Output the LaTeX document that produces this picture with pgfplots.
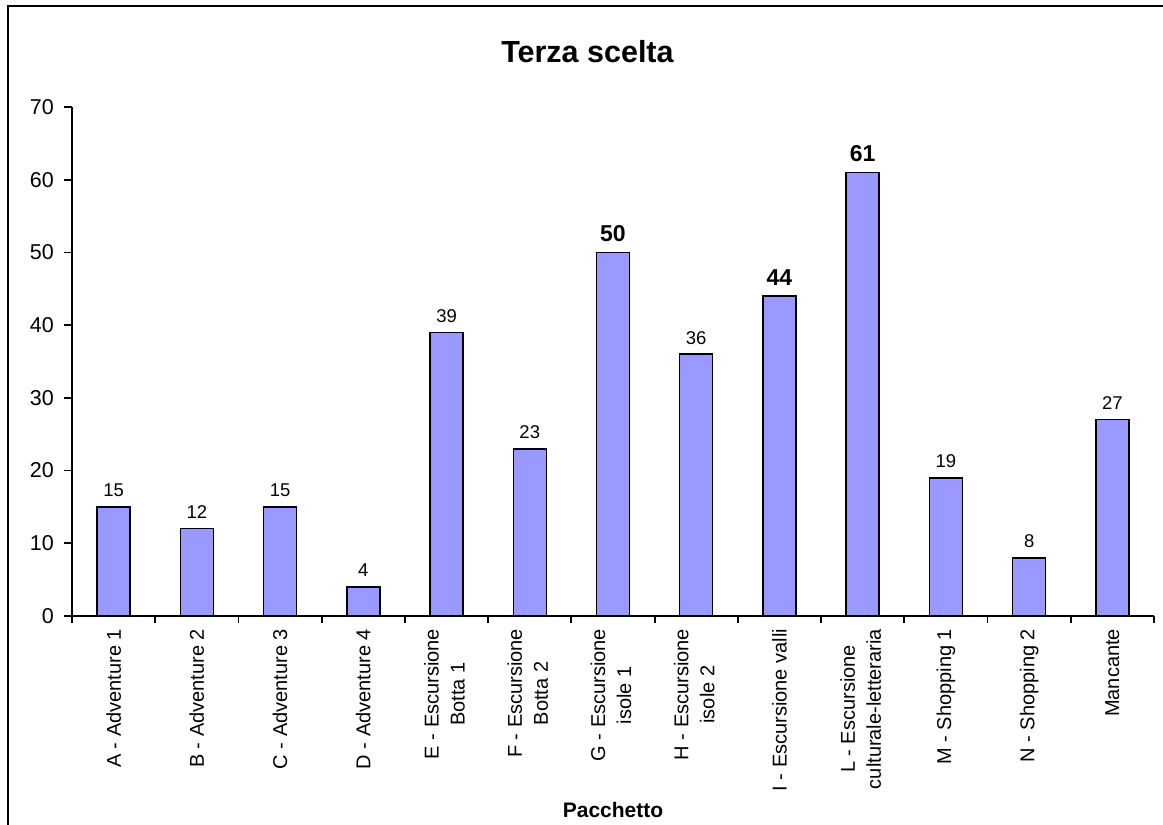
\documentclass[border=0pt]{standalone}
\usepackage{pgfplots}
\pgfplotsset{compat=1.18}
\usepackage{fontspec}
\setmainfont{Liberation Sans}
\definecolor{barfill}{HTML}{9999FF}
\newcommand\catfont{\fontsize{20}{26}\selectfont}
\newcommand\tickfont{\fontsize{21.5}{24}\selectfont}
\newcommand\valfont{\fontsize{18.5}{20}\selectfont}
\newcommand\boldvalfont{\fontsize{23}{25}\selectfont\bfseries}
\newcommand\two[2]{\begin{tabular}{@{}c@{}}#1\\#2\end{tabular}}
\begin{document}
\begin{tikzpicture}[x=1pt,y=1pt]
\useasboundingbox (0,0) rectangle (1163,825);
\draw[line width=2pt] (8,0) -- (8,819) -- (1163,819);
\begin{axis}[
  at={(72pt,209pt)}, anchor=south west,
  scale only axis, width=1082pt, height=509pt,
  xmin=-0.5, xmax=12.5, ymin=0, ymax=70,
  /pgf/number format/assume math mode=true,
  axis x line*=bottom, axis y line*=left,
  axis line style={line width=1.8pt},
  ytick={0,10,...,70},
  xtick={0,...,12},
  minor xtick={-0.5,0.5,...,12.5},
  tick align=outside,
  major tick length=8pt, minor tick length=7pt,
  ytick style={line width=1.8pt, black},
  minor x tick style={line width=1.8pt, black},
  major x tick style={draw=none},
  yticklabel style={font=\tickfont, anchor=east, inner sep=0pt, xshift=-10pt},
  xticklabel style={font=\catfont, rotate=90, anchor=east, inner sep=0pt, outer xsep=5pt},
  xticklabels={
    A - Adventure 1,
    B - Adventure 2,
    C - Adventure 3,
    D - Adventure 4,
    \two{E - Escursione}{Botta 1},
    \two{F - Escursione}{Botta 2},
    \two{G - Escursione}{isole 1},
    \two{H - Escursione}{isole 2},
    I - Escursione valli,
    \two{L - Escursione}{culturale-letteraria},
    M - Shopping 1,
    N - Shopping 2,
    Mancante},
  xlabel={Pacchetto},
  xlabel style={font=\fontsize{21}{24}\selectfont\bfseries, at={(axis description cs:0.5,0)}, anchor=base, yshift=-201pt},
  title={Terza scelta},
  title style={font=\fontsize{30.5}{34}\selectfont\bfseries, at={(axis description cs:0.4764,1)}, anchor=base, yshift=38.5pt},
  clip=false,
]
\addplot[ybar, bar width=33pt, fill=barfill, draw=black, line width=1.5pt] coordinates {
  (0,15) (1,12) (2,15) (3,4) (4,39) (5,23) (6,50) (7,36) (8,44) (9,61) (10,19) (11,8) (12,27)};
\addplot[only marks, mark=none, point meta=y, nodes near coords,
  every node near coord/.style={font=\valfont, anchor=base, inner sep=0pt, yshift=10pt}] coordinates {
  (0,15) (1,12) (2,15) (3,4) (4,39) (5,23) (7,36) (10,19) (11,8) (12,27)};
\addplot[only marks, mark=none, point meta=y, nodes near coords,
  every node near coord/.style={font=\boldvalfont, anchor=base, inner sep=0pt, yshift=11pt}] coordinates {
  (6,50) (8,44) (9,61)};
\end{axis}
\end{tikzpicture}
\end{document}
